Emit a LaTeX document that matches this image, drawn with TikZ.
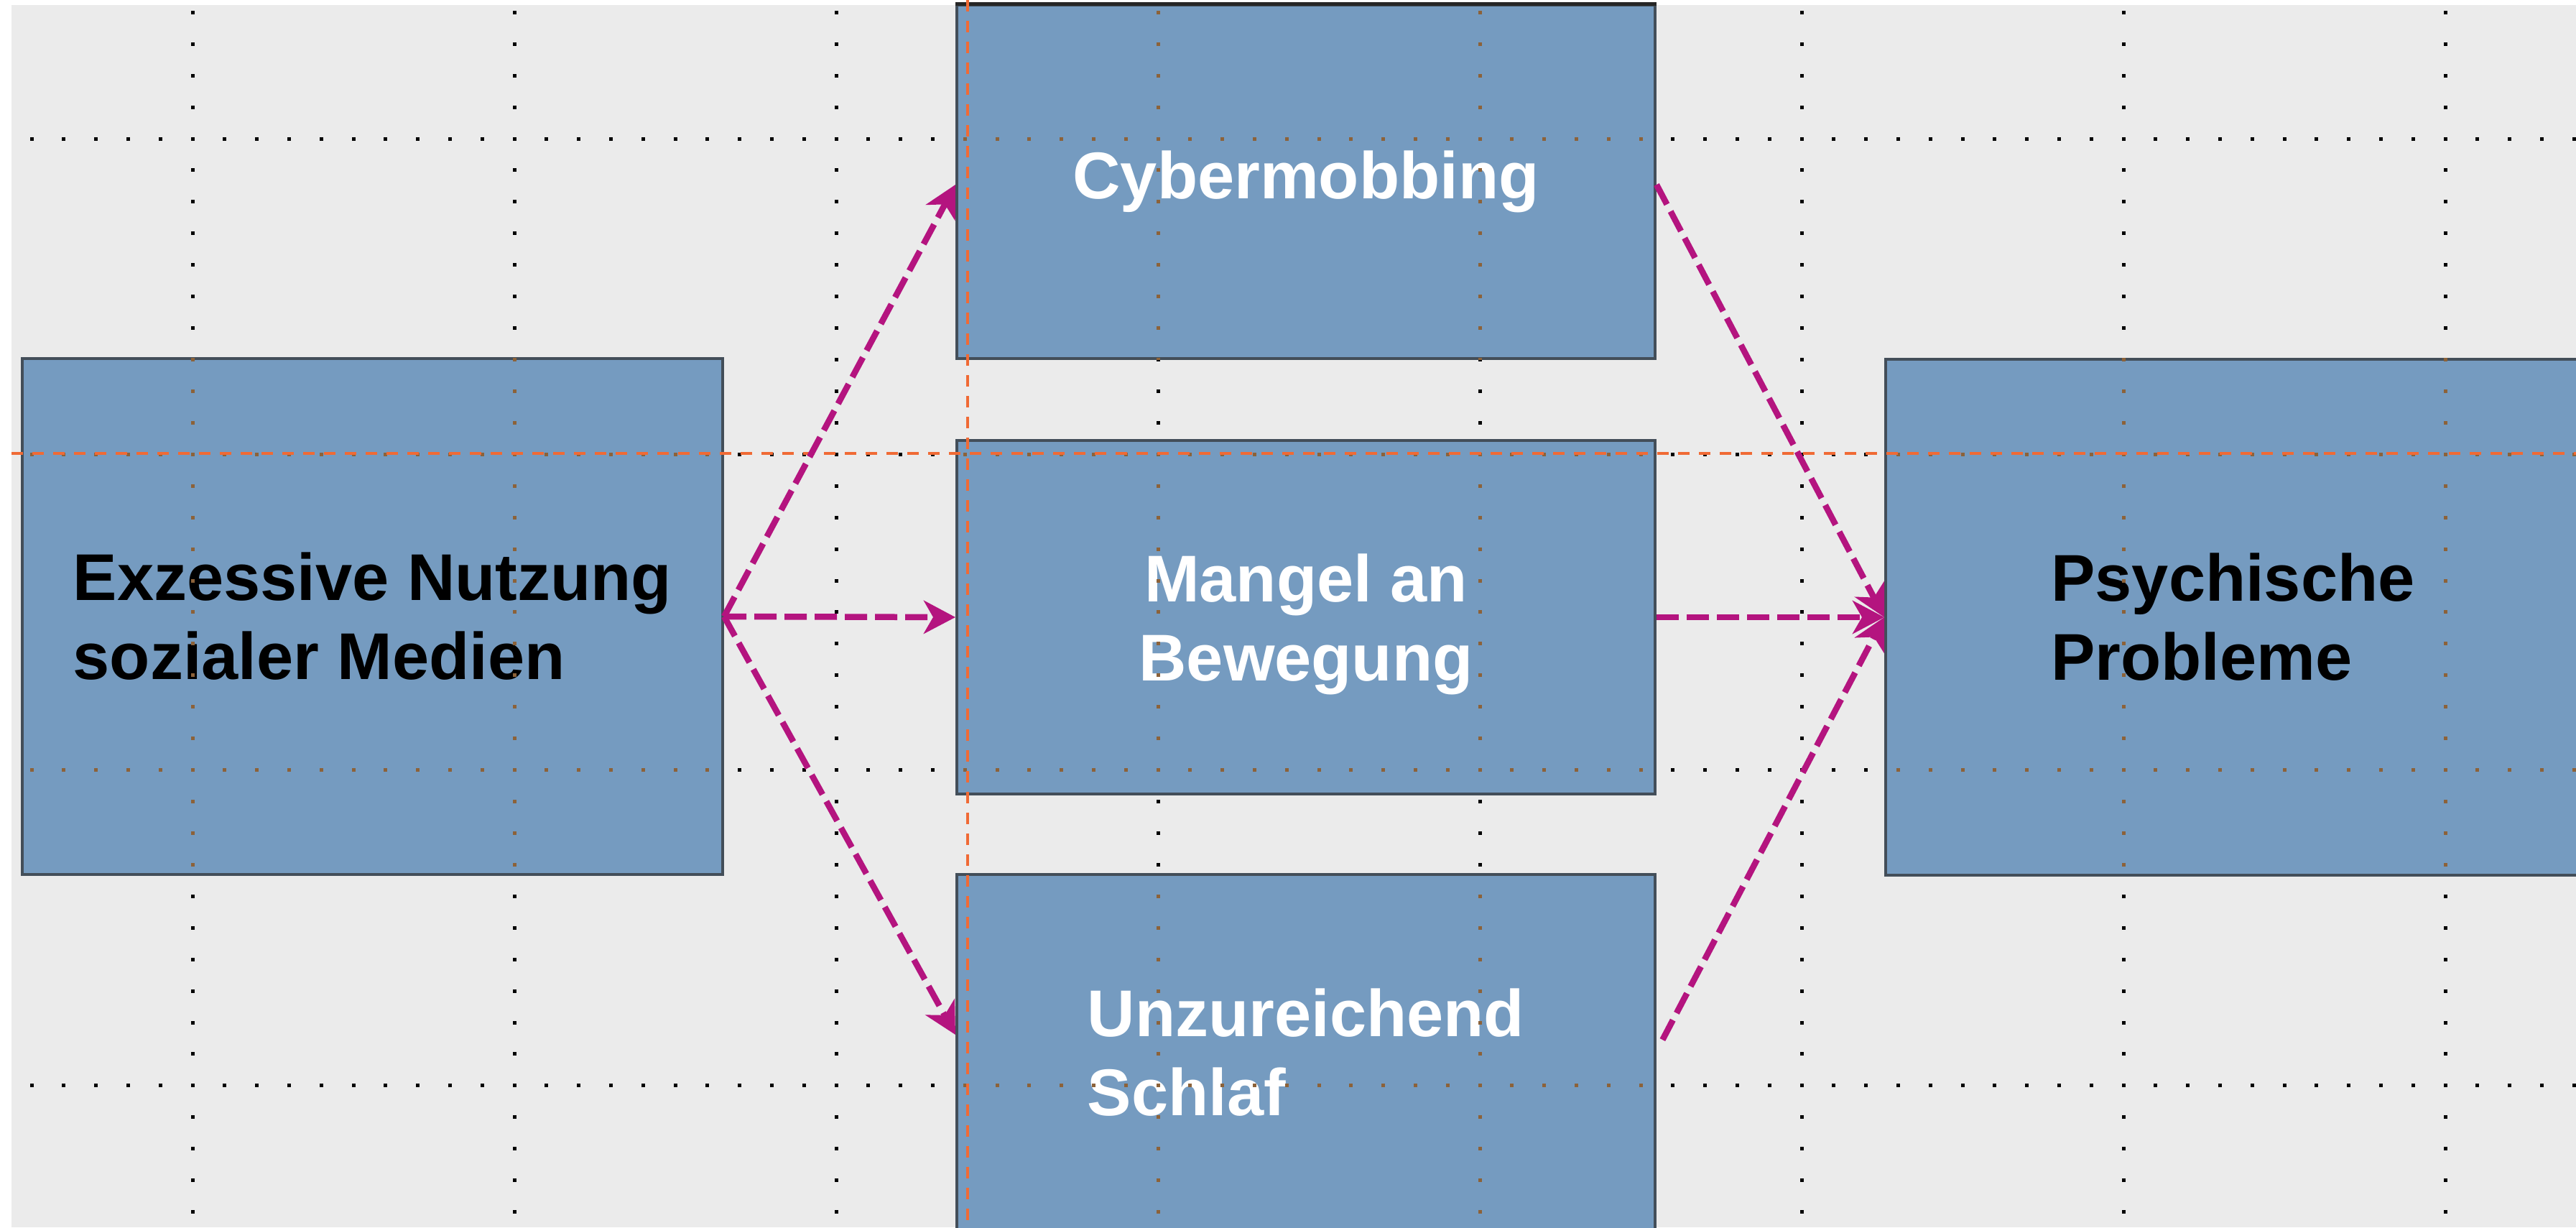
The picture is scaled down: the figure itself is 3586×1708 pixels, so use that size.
\documentclass[tikz,border=0pt]{standalone}
\usepackage{fontspec}
\setmainfont{Liberation Sans}
\usetikzlibrary{arrows.meta}
\definecolor{bgcol}{HTML}{EBEBEB}
\definecolor{boxfill}{HTML}{759BC0}
\definecolor{boxline}{HTML}{434E59}
\definecolor{magcol}{HTML}{B4147F}
\definecolor{guidecol}{HTML}{F06A35}
\definecolor{dotbrown}{HTML}{8C6239}
\newcommand\gridDots[1]{%
  \foreach \gy in {193,632.3,1071.6,1510.9}{
    \foreach \k in {-5,...,74}{
      \fill[#1] (265.5+44.8*\k, \gy-2.5) rectangle ++(5,5);
    }
  }
  \foreach \j in {0,...,7}{
    \foreach \k in {-4,...,34}{
      \fill[#1] (265.5+448*\j, 190.5+43.93*\k) rectangle ++(5,5);
    }
  }
}
\tikzset{
  box/.style={rectangle, draw=boxline, line width=4pt, fill=boxfill, inner sep=0pt,
    font=\fontsize{92pt}{110pt}\selectfont\bfseries},
  arr/.style={draw=magcol, line width=8.5pt, dash pattern=on 31pt off 11pt,
    -{Stealth[length=44pt,width=46pt,inset=13pt]}},
  guideline/.style={draw=guidecol, line width=4.5pt, dash pattern=on 16pt off 13pt}
}
\begin{document}
\begin{tikzpicture}[x=1pt,y=-1pt]
\useasboundingbox (0,0) rectangle (3586,1708);
\clip (0,0) rectangle (3586,1708);
\fill[white] (0,0) rectangle (3586,1708);
\fill[bgcol] (16,7) rectangle (3586,1708);
\gridDots{black}
% boxes
\node[box, minimum width=975pt, minimum height=718pt, text=black, align=left]
  (L) at (518.5,858) {Exzessive Nutzung\\sozialer Medien};
\node[box, minimum width=972pt, minimum height=492pt, text=white]
  (C) at (1818,253) {Cybermobbing};
\node[box, minimum width=972pt, minimum height=492pt, text=white, align=center]
  (M) at (1818,859) {Mangel an\\\smash{Bewegung}};
\node[box, minimum width=972pt, minimum height=496pt, text=white, align=left]
  (U) at (1818,1465) {Unzureichend\\Schlaf};
\node[box, minimum width=967pt, minimum height=718pt, text=black, align=left]
  (P) at (3108.5,859) {Psychische\\Probleme};
\draw[line width=5pt, black!85] (C.north west) -- (C.north east);
% grid dots over boxes
\begin{scope}
  \clip (L.south west) rectangle (L.north east)
        (C.south west) rectangle (C.north east)
        (M.south west) rectangle (M.north east)
        (U.south west) rectangle (U.north east)
        (P.south west) rectangle (P.north east);
  \gridDots{dotbrown}
\end{scope}
% guides
\draw[guideline] (16,631) -- (3586,631);
\draw[guideline] (1347,0) -- (1347,1708);
% connectors
\draw[arr] (L.east) -- ([yshift=-4pt]C.west);
\draw[arr] (L.east) -- (M.west);
\draw[arr] (L.east) -- ([yshift=25pt]U.west);
\draw[arr] ([yshift=-4pt]C.east) -- (P.west);
\draw[arr] (M.east) -- (P.west);
\draw[arr, shorten <=18pt] ([yshift=2pt]U.east) -- (P.west);
\end{tikzpicture}
\end{document}
